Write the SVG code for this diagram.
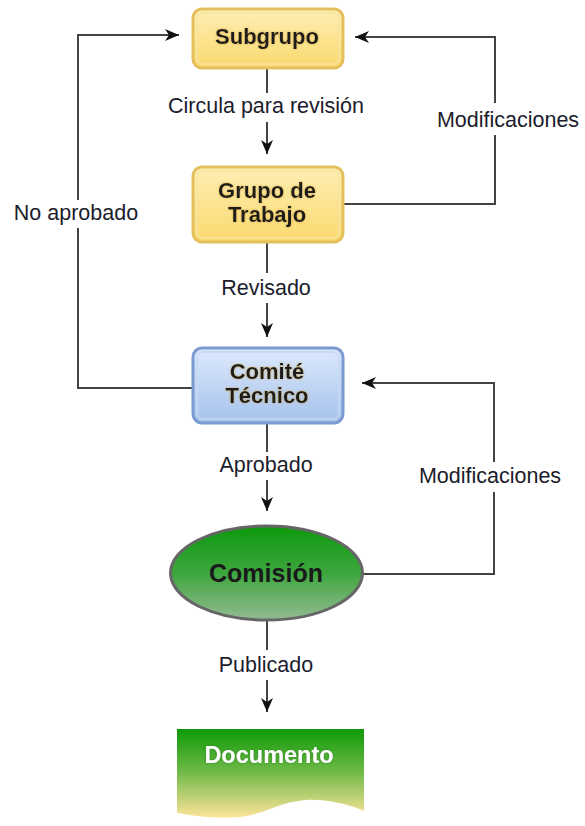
<svg xmlns="http://www.w3.org/2000/svg" width="585" height="826" viewBox="0 0 585 826">
<style>
.lbl{font-family:"Liberation Sans",Arial,sans-serif;font-size:21.5px;fill:#1c1c2c;text-anchor:middle}
.ntxt{font-family:"Liberation Sans",Arial,sans-serif;font-weight:bold;font-size:22px;fill:#1a1a1a;text-anchor:middle}
.conn{fill:none;stroke:#444;stroke-width:2}
.bg{fill:#fff}
</style>
<defs>
<linearGradient id="gY" x1="0" y1="0" x2="0" y2="1"><stop offset="0" stop-color="#fdeeb3"/><stop offset="1" stop-color="#fbd96e"/></linearGradient>
<linearGradient id="gB" x1="0" y1="0" x2="0" y2="1"><stop offset="0" stop-color="#dce9fc"/><stop offset="1" stop-color="#a6c2ec"/></linearGradient>
<linearGradient id="gE" x1="0" y1="0" x2="0" y2="1"><stop offset="0" stop-color="#0c990c"/><stop offset="0.5" stop-color="#3ea63e"/><stop offset="1" stop-color="#92bb92"/></linearGradient>
<linearGradient id="gD" x1="0" y1="0" x2="0" y2="1"><stop offset="0" stop-color="#0e9a08"/><stop offset="0.5" stop-color="#73bb4a"/><stop offset="1" stop-color="#ffe49a"/></linearGradient>
<filter id="glow" x="-10%" y="-30%" width="120%" height="160%"><feDropShadow dx="0" dy="0" stdDeviation="0.8" flood-color="#c8a040" flood-opacity="0.9"/></filter>
<filter id="glowD" x="-10%" y="-30%" width="120%" height="160%"><feDropShadow dx="0" dy="0" stdDeviation="0.8" flood-color="#2a7a1a" flood-opacity="0.9"/></filter>
<marker id="arr" viewBox="0 0 14 12" refX="14" refY="6" markerWidth="14" markerHeight="12" markerUnits="userSpaceOnUse" orient="auto"><path d="M0,0 L14,6 L0,12 L4,6 Z" fill="#111"/></marker>
</defs>

<g id="connectors">
<path class="conn" d="M267,68 V154" marker-end="url(#arr)"/>
<path class="conn" d="M267,242 V337" marker-end="url(#arr)"/>
<path class="conn" d="M267,423 V511" marker-end="url(#arr)"/>
<path class="conn" d="M267,620 V712" marker-end="url(#arr)"/>
<path class="conn" d="M192,388 H78 V35 H179" marker-end="url(#arr)"/>
<path class="conn" d="M343,204 H495 V37 H355" marker-end="url(#arr)"/>
<path class="conn" d="M363,574 H494 V383 H362" marker-end="url(#arr)"/>
<rect class="bg" x="158" y="93" width="218" height="29"/>
<text class="lbl" x="266" y="113">Circula para revisión</text>
<rect class="bg" x="212" y="273" width="110" height="30"/>
<text class="lbl" x="266" y="295">Revisado</text>
<rect class="bg" x="212" y="452" width="110" height="28"/>
<text class="lbl" x="266" y="472">Aprobado</text>
<rect class="bg" x="212" y="650" width="110" height="30"/>
<text class="lbl" x="266" y="672">Publicado</text>
<rect class="bg" x="6" y="200" width="142" height="28"/>
<text class="lbl" x="76" y="220">No aprobado</text>
<rect class="bg" x="430" y="103" width="155" height="32"/>
<text class="lbl" x="508" y="127">Modificaciones</text>
<rect class="bg" x="412" y="462" width="158" height="30"/>
<text class="lbl" x="490" y="483">Modificaciones</text>
</g>

<g id="subgrupo">
<rect x="193" y="9" width="150" height="59" rx="9" fill="url(#gY)" stroke="#e3c05c" stroke-width="3"/>
<rect x="197" y="13" width="142" height="51" rx="6" fill="none" stroke="#f8e4a2" stroke-width="1.5"/>
<text class="ntxt" x="267" y="44" filter="url(#glow)">Subgrupo</text>
</g>

<g id="grupo-trabajo">
<rect x="193" y="167" width="150" height="75" rx="9" fill="url(#gY)" stroke="#e3c05c" stroke-width="3"/>
<rect x="197" y="171" width="142" height="67" rx="6" fill="none" stroke="#f8e4a2" stroke-width="1.5"/>
<text class="ntxt" x="267" y="198" filter="url(#glow)">Grupo de</text>
<text class="ntxt" x="267" y="222" filter="url(#glow)">Trabajo</text>
</g>

<g id="comite-tecnico">
<rect x="193" y="348" width="150" height="75" rx="9" fill="url(#gB)" stroke="#7b9bd0" stroke-width="3"/>
<rect x="197" y="352" width="142" height="67" rx="6" fill="none" stroke="#c4d7f4" stroke-width="1.5"/>
<text class="ntxt" x="267" y="379" filter="url(#glow)">Comité</text>
<text class="ntxt" x="267" y="403" filter="url(#glow)">Técnico</text>
</g>

<g id="comision">
<ellipse cx="266.5" cy="573" rx="96" ry="47" fill="url(#gE)" stroke="#666" stroke-width="3"/>
<text class="ntxt" x="266" y="582" style="font-size:25px" fill="#111">Comisión</text>
</g>

<g id="documento">
<path d="M177,729 H364 V811 C345,803 325,799 305,800 C280,802 262,815 240,817 C215,819 195,816 177,813 Z" fill="url(#gD)"/>
<text class="ntxt" x="269" y="763" style="font-size:23.5px;fill:#ffffff" filter="url(#glowD)">Documento</text>
</g>
</svg>
